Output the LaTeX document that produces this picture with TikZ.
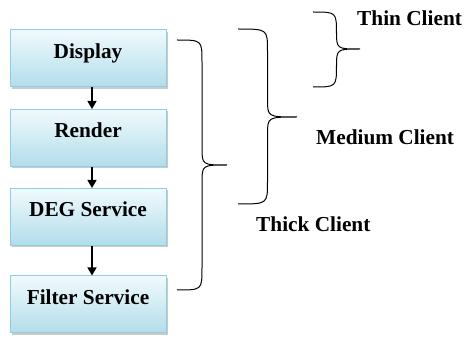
\documentclass[tikz,border=0pt]{standalone}
\usepackage{fontspec}
\setmainfont{Liberation Serif}
\usetikzlibrary{shadows,arrows.meta}
\definecolor{boxborder}{RGB}{140,206,226}
\definecolor{boxtop}{RGB}{240,250,253}
\definecolor{boxbot}{RGB}{178,221,234}
\tikzset{
  layer/.style={draw=boxborder, line width=1pt, top color=boxtop, bottom color=boxbot,
    minimum width=156pt, minimum height=57pt, inner sep=0pt,
    text height=15pt, text depth=15pt,
    font=\fontsize{21.3}{25}\selectfont\bfseries,
    drop shadow={shadow xshift=2pt, shadow yshift=-2pt, fill=black!35, opacity=0.6}},
  flow/.style={line width=1.3pt, -{Triangle[width=9pt,length=8pt]}},
  brace/.style={line width=1pt, black},
  lbl/.style={font=\fontsize{21.3}{25}\selectfont\bfseries, anchor=west, inner sep=0pt}
}
% brace: x0 (ends), ytop, ybot, xtip, ytip
\newcommand{\mybrace}[5]{%
  \pgfmathsetmacro{\xb}{(#1+#4)/2}
  \draw[brace] (#1,#2) .. controls (\xb,#2) .. (\xb,#2+22) -- (\xb,#5-18)
    .. controls (\xb,#5) .. (#4,#5) .. controls (\xb,#5) .. (\xb,#5+18)
    -- (\xb,#3-22) .. controls (\xb,#3) .. (#1,#3);}
\begin{document}
\begin{tikzpicture}[x=1pt,y=-1pt]
\useasboundingbox (0,0) rectangle (467,337);
\node[layer] (disp) at (88,58.5) {Display};
\node[layer] (rend) at (88,138) {Render};
\node[layer] (deg) at (88,217) {DEG Service};
\node[layer] (filt) at (88,304.5) {Filter Service};
\draw[flow] ([xshift=4pt]disp.south) -- ([xshift=4pt]rend.north);
\draw[flow] ([xshift=4pt]rend.south) -- ([xshift=4pt]deg.north);
\draw[flow] ([xshift=4pt]deg.south) -- ([xshift=4pt]filt.north);
\mybrace{177}{40}{290}{227}{165}
\mybrace{238}{29}{204}{297}{117}
\mybrace{313}{12}{87}{360}{49}
\node[lbl] (thin) at (357,18) {Thin Client};
\node[lbl] (med) at (316,137) {Medium Client};
\node[lbl] (thick) at (256,224) {Thick Client};
\end{tikzpicture}
\end{document}
